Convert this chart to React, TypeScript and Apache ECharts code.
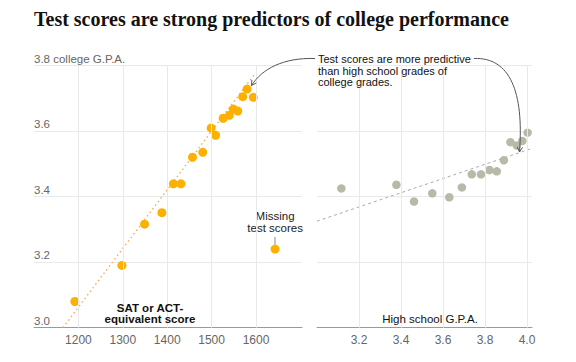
import React, { useEffect, useRef } from "react";
import * as echarts from "echarts";

// ---- Data ----
const satScores = [1580, 1594, 1570, 1559, 1549, 1540, 1526, 1509, 1499, 1480, 1457, 1431, 1414, 1388, 1349, 1298, 1192];
const satCollegeGpa = [3.728, 3.703, 3.705, 3.661, 3.667, 3.648, 3.639, 3.587, 3.609, 3.535, 3.52, 3.439, 3.439, 3.351, 3.316, 3.19, 3.08];
const missingScore = [1643];
const missingCollegeGpa = [3.24];
const satTrendX = [1165, 1595];
const satTrendY = [3.0, 3.77];

const hsGpa = [3.116, 3.378, 3.462, 3.549, 3.63, 3.69, 3.737, 3.781, 3.821, 3.856, 3.89, 3.921, 3.951, 3.978, 4.003];
const hsCollegeGpa = [3.425, 3.436, 3.385, 3.41, 3.398, 3.428, 3.468, 3.468, 3.481, 3.477, 3.511, 3.566, 3.556, 3.57, 3.595];
const hsTrendX = [3.0, 4.0238];
const hsTrendY = [3.325, 3.547];

const yTicks = [3.0, 3.2, 3.4, 3.6, 3.8];
const satTicks = [1200, 1300, 1400, 1500, 1600];
const hsTicks = [3.2, 3.4, 3.6, 3.8, 4.0];

const SANS = "'Liberation Sans', Arial, sans-serif";
const ORANGE = "#fcb000";
const GRAY_PT = "#b7baa9";
const GRID = "#e9e9e9";

function zip(xs: number[], ys: number[]) {
  return xs.map((x, i) => [x, ys[i]]);
}

function has(list: number[], v: number) {
  return list.some((t) => Math.abs(t - v) < 1e-6);
}

function arrowHead(tip: number[], from: number[], len = 5.5, ang = 0.5) {
  const dx = from[0] - tip[0];
  const dy = from[1] - tip[1];
  const a = Math.atan2(dy, dx);
  const p1 = [tip[0] + len * Math.cos(a + ang), tip[1] + len * Math.sin(a + ang)];
  const p2 = [tip[0] + len * Math.cos(a - ang), tip[1] + len * Math.sin(a - ang)];
  return [p1, tip, p2];
}

export default function App() {
  const ref = useRef<HTMLDivElement>(null);
  useEffect(() => {
    if (!ref.current) return;
    const chart = echarts.init(ref.current, undefined, { renderer: "svg" });

    const gridTop = 65.5;
    const gridH = 262.2;

    const yAxisBase = (idx: number) => ({
      type: "value",
      gridIndex: idx,
      min: 3.0,
      max: 3.8,
      interval: 0.2,
      axisLine: { show: false },
      axisTick: { show: false },
      splitLine: { show: true, lineStyle: { color: GRID, width: 1 } },
      axisLabel: {
        show: idx === 0,
        inside: true,
        margin: 0,
        align: "left",
        verticalAlign: "bottom",
        padding: [0, 0, 1, 0],
        color: "#666",
        fontFamily: SANS,
        fontSize: 11.5,
        formatter: (v: number) => {
          if (!has(yTicks, v)) return "";
          const s = v.toFixed(1);
          return Math.abs(v - 3.8) < 1e-6 ? s + " college G.P.A." : s;
        },
      },
    });

    const xAxisBase = (idx: number, min: number, max: number, interval: number, ticks: number[], fmt: (v: number) => string) => ({
      type: "value",
      gridIndex: idx,
      min,
      max,
      interval,
      axisLine: { show: true, lineStyle: { color: "#999", width: 1 } },
      axisTick: { show: false },
      splitLine: { show: false },
      axisLabel: {
        margin: 6,
        color: "#666",
        fontFamily: SANS,
        fontSize: 12,
        showMinLabel: true,
        showMaxLabel: true,
        formatter: (v: number) => (has(ticks, v) ? fmt(v) : ""),
      },
    });

    const vGrid = (ticks: number[]) => ({
      silent: true,
      symbol: "none",
      label: { show: false },
      lineStyle: { color: GRID, type: "solid", width: 1 },
      emphasis: { disabled: true },
      data: ticks.map((v) => ({ xAxis: v })),
    });

    // annotation geometry
    const lp0 = [315, 58.5];
    const lc1 = [283, 57.5];
    const lc2 = [262, 69];
    const lp3 = [251.5, 85.5];
    const rp0 = [474, 58.5];
    const rc1 = [510, 57];
    const rc2 = [524, 92];
    const rp3 = [519.5, 152];

    const option = {
      animation: false,
      title: {
        text: "Test scores are strong predictors of college performance",
        left: 34,
        top: 9,
        padding: 0,
        textStyle: {
          fontFamily: "'Liberation Serif', 'DejaVu Serif', serif",
          fontWeight: "bold",
          fontSize: 20,
          color: "#121212",
        },
      },
      grid: [
        { left: 34, top: gridTop, width: 268, height: gridH },
        { left: 317, top: gridTop, width: 215, height: gridH },
      ],
      xAxis: [
        xAxisBase(0, 1100, 1703.6, 100, satTicks, (v) => String(Math.round(v))),
        xAxisBase(1, 3.0, 4.0238, 0.2, hsTicks, (v) => v.toFixed(1)),
      ],
      yAxis: [yAxisBase(0), yAxisBase(1)],
      series: [
        {
          type: "line",
          xAxisIndex: 0,
          yAxisIndex: 0,
          data: zip(satTrendX, satTrendY),
          symbol: "none",
          silent: true,
          z: 2,
          lineStyle: { color: "#f2a65a", width: 1.3, type: [1.5, 3] },
          markLine: vGrid(satTicks),
        },
        {
          type: "scatter",
          xAxisIndex: 0,
          yAxisIndex: 0,
          data: zip(satScores, satCollegeGpa),
          symbolSize: 9,
          itemStyle: { color: ORANGE, opacity: 1 },
          z: 3,
        },
        {
          type: "scatter",
          xAxisIndex: 0,
          yAxisIndex: 0,
          data: zip(missingScore, missingCollegeGpa),
          symbolSize: 9,
          itemStyle: { color: ORANGE, opacity: 1 },
          z: 3,
          label: {
            show: true,
            position: "top",
            distance: 11,
            formatter: "Missing\ntest scores",
            align: "center",
            color: "#222",
            fontFamily: SANS,
            fontSize: 11.5,
            lineHeight: 12,
          },
        },
        {
          type: "line",
          xAxisIndex: 1,
          yAxisIndex: 1,
          data: zip(hsTrendX, hsTrendY),
          symbol: "none",
          silent: true,
          z: 2,
          lineStyle: { color: "#aaa", width: 1, type: [3, 3] },
          markLine: vGrid(hsTicks),
        },
        {
          type: "scatter",
          xAxisIndex: 1,
          yAxisIndex: 1,
          data: zip(hsGpa, hsCollegeGpa),
          symbolSize: 8.5,
          itemStyle: { color: GRAY_PT, opacity: 1 },
          z: 3,
        },
      ],
      graphic: [
        {
          type: "text",
          z: 10,
          style: {
            x: 150,
            y: 302,
            text: "SAT or ACT-\nequivalent score",
            align: "center",
            verticalAlign: "top",
            fontFamily: SANS,
            fontWeight: "bold",
            fontSize: 11.5,
            lineHeight: 11.5,
            fill: "#111",
          },
        },
        {
          type: "text",
          z: 10,
          style: {
            x: 430,
            y: 313,
            text: "High school G.P.A.",
            align: "center",
            verticalAlign: "top",
            fontFamily: SANS,
            fontSize: 11.5,
            lineHeight: 12,
            fill: "#111",
          },
        },
        {
          type: "text",
          z: 10,
          style: {
            x: 318,
            y: 53,
            text: "Test scores are more predictive\nthan high school grades of\ncollege grades.",
            align: "left",
            verticalAlign: "top",
            fontFamily: SANS,
            fontSize: 11,
            lineHeight: 11.7,
            fill: "#111",
          },
        },
        {
          type: "line",
          z: 10,
          shape: { x1: 275, y1: 237, x2: 275, y2: 244.5 },
          style: { stroke: "#888", lineWidth: 1 },
        },
        {
          type: "bezierCurve",
          z: 10,
          shape: { x1: lp0[0], y1: lp0[1], cpx1: lc1[0], cpy1: lc1[1], cpx2: lc2[0], cpy2: lc2[1], x2: lp3[0], y2: lp3[1] },
          style: { stroke: "#555", lineWidth: 1, fill: "none" },
        },
        {
          type: "polyline",
          z: 10,
          shape: { points: arrowHead(lp3, lc2) },
          style: { stroke: "#555", lineWidth: 1, fill: "none" },
        },
        {
          type: "bezierCurve",
          z: 10,
          shape: { x1: rp0[0], y1: rp0[1], cpx1: rc1[0], cpy1: rc1[1], cpx2: rc2[0], cpy2: rc2[1], x2: rp3[0], y2: rp3[1] },
          style: { stroke: "#555", lineWidth: 1, fill: "none" },
        },
        {
          type: "polyline",
          z: 10,
          shape: { points: arrowHead(rp3, rc2) },
          style: { stroke: "#555", lineWidth: 1, fill: "none" },
        },
      ],
    };

    chart.setOption(option as any);
    return () => chart.dispose();
  }, []);

  return (
    <div
      ref={ref}
      style={{ position: "absolute", left: 0, top: 0, width: 576, height: 362, background: "#fff" }}
    />
  );
}
